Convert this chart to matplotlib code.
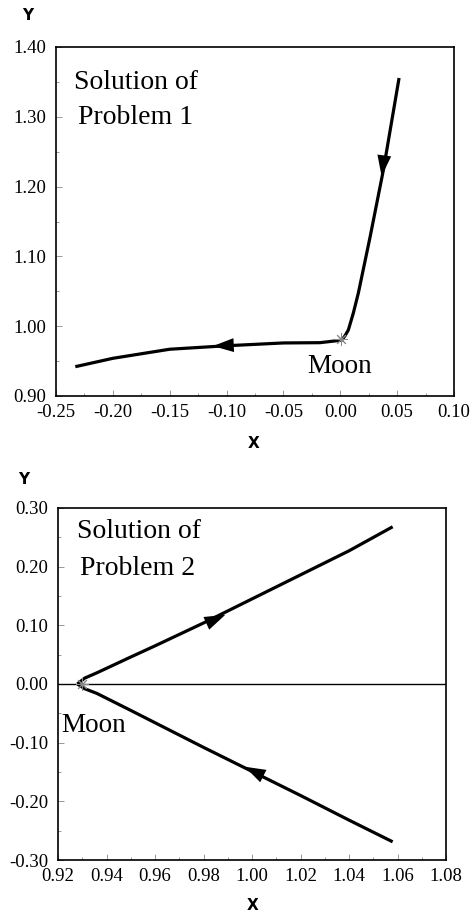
import matplotlib
matplotlib.use("Agg")
import matplotlib.pyplot as plt
from matplotlib.ticker import MultipleLocator, FormatStrFormatter

plt.rcParams['font.family'] = ['Liberation Serif', 'DejaVu Serif']
plt.rcParams['axes.unicode_minus'] = False

# Problem 1 trajectory
x1 = [0.0517, 0.0379, 0.0262, 0.0159, 0.0115, 0.0071, 0.0040, 0.0013,
      -0.0178, -0.050, -0.100, -0.150, -0.200, -0.233]
y1 = [1.3556, 1.2238, 1.1278, 1.0476, 1.0190, 0.9946, 0.9860, 0.9800,
      0.9764, 0.976, 0.972, 0.967, 0.954, 0.942]
moon1 = (0.001, 0.982)
# arrows: (tail x, tail y, head x, head y)
arrows1 = [(0.0398, 1.258, 0.0363, 1.215), (-0.086, 0.9735, -0.112, 0.9715)]

# Problem 2 trajectories
x2u = [0.928, 0.931, 0.936, 0.950, 0.960, 0.980, 1.000, 1.020, 1.040, 1.058]
y2u = [0.000, 0.010, 0.019, 0.046, 0.065, 0.104, 0.145, 0.186, 0.227, 0.268]
x2l = [0.928, 0.931, 0.936, 0.950, 0.960, 0.980, 1.000, 1.020, 1.040, 1.058]
y2l = [0.000, -0.008, -0.016, -0.045, -0.066, -0.108, -0.149, -0.190, -0.232, -0.269]
moon2 = (0.930, 0.0)
arrows2 = [(0.974, 0.090, 0.989, 0.118), (1.010, -0.168, 0.997, -0.141)]

fig = plt.figure(figsize=(4.72, 9.18), dpi=100)
ax1 = fig.add_axes([56 / 472, 1 - 396 / 918, 398 / 472, 349 / 918])
ax2 = fig.add_axes([58 / 472, 1 - 860 / 918, 388 / 472, 352 / 918])


def style(ax):
    for s in ax.spines.values():
        s.set_linewidth(1.2)
    ax.tick_params(which='both', direction='in', top=False, right=False,
                   labelsize=13.5, colors='black')
    ax.tick_params(which='major', length=4, width=0.6, color='#888888')
    ax.tick_params(which='minor', length=2, width=0.6, color='#888888')
    ax.tick_params(axis='y', pad=7)
    ax.tick_params(axis='x', pad=6)
    ax.xaxis.set_major_formatter(FormatStrFormatter('%.2f'))
    ax.yaxis.set_major_formatter(FormatStrFormatter('%.2f'))


def arrow(ax, a):
    ax.annotate('', xy=(a[2], a[3]), xytext=(a[0], a[1]),
                arrowprops=dict(arrowstyle='-|>,head_length=1.5,head_width=0.5',
                                color='black', lw=0, shrinkA=0, shrinkB=0))


# top panel
ax1.plot(x1, y1, color='black', lw=2.3, solid_capstyle='butt', solid_joinstyle='round')
ax1.plot(*moon1, marker=(8, 2, 0), color='#888888', ms=9, mew=0.7)
for a in arrows1:
    arrow(ax1, a)
ax1.set_xlim(-0.25, 0.10)
ax1.set_ylim(0.90, 1.40)
ax1.xaxis.set_major_locator(MultipleLocator(0.05))
ax1.xaxis.set_minor_locator(MultipleLocator(0.025))
ax1.yaxis.set_major_locator(MultipleLocator(0.10))
ax1.yaxis.set_minor_locator(MultipleLocator(0.05))
style(ax1)
ax1.text(0.045, 0.880, 'Solution of', transform=ax1.transAxes, fontsize=20, va='baseline')
ax1.text(0.055, 0.779, 'Problem 1', transform=ax1.transAxes, fontsize=20, va='baseline')
ax1.text(-0.0292, 0.933, 'Moon', fontsize=19.5, va='baseline', ha='left')

# bottom panel
ax2.axhline(0, color='black', lw=1.0)
ax2.plot(x2u, y2u, color='black', lw=2.3, solid_capstyle='butt', solid_joinstyle='round')
ax2.plot(x2l, y2l, color='black', lw=2.3, solid_capstyle='butt', solid_joinstyle='round')
ax2.plot(*moon2, marker=(8, 2, 0), color='#888888', ms=9, mew=0.7)
for a in arrows2:
    arrow(ax2, a)
ax2.set_xlim(0.92, 1.08)
ax2.set_ylim(-0.30, 0.30)
ax2.xaxis.set_major_locator(MultipleLocator(0.02))
ax2.xaxis.set_minor_locator(MultipleLocator(0.01))
ax2.yaxis.set_major_locator(MultipleLocator(0.10))
ax2.yaxis.set_minor_locator(MultipleLocator(0.05))
style(ax2)
ax2.text(0.049, 0.915, 'Solution of', transform=ax2.transAxes, fontsize=20, va='baseline')
ax2.text(0.057, 0.810, 'Problem 2', transform=ax2.transAxes, fontsize=20, va='baseline')
ax2.text(0.9212, -0.082, 'Moon', fontsize=19.5, va='baseline', ha='left')

# axis letters
for xx, yy, s in [(28, 15, 'Y'), (254, 443, 'X'), (24, 480, 'Y'), (253, 905, 'X')]:
    fig.text(xx / 472, 1 - yy / 918, s, fontsize=11, fontweight='bold',
             family='DejaVu Sans', ha='center', va='center')

fig.savefig('out.png', dpi=100)
